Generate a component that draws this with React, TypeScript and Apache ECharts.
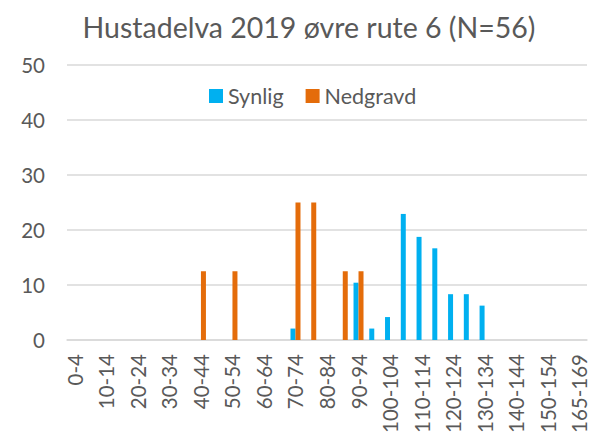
import React, { useEffect, useRef } from "react";
import * as echarts from "echarts";

const categories = [
  "0-4", "5-9", "10-14", "15-19", "20-24", "25-29", "30-34", "35-39",
  "40-44", "45-49", "50-54", "55-59", "60-64", "65-69", "70-74", "75-79",
  "80-84", "85-89", "90-94", "95-99", "100-104", "105-109", "110-114", "115-119",
  "120-124", "125-129", "130-134", "135-139", "140-144", "145-149", "150-154", "155-164",
  "165-169",
];

const synlig = [
  0, 0, 0, 0, 0, 0, 0, 0,
  0, 0, 0, 0, 0, 0, 2.08, 0,
  0, 0, 10.42, 2.08, 4.17, 22.92, 18.75, 16.67,
  8.33, 8.33, 6.25, 0, 0, 0, 0, 0,
  0,
];

const nedgravd = [
  0, 0, 0, 0, 0, 0, 0, 0,
  12.5, 0, 12.5, 0, 0, 0, 25, 25,
  0, 12.5, 12.5, 0, 0, 0, 0, 0,
  0, 0, 0, 0, 0, 0, 0, 0,
  0,
];

const yTicks = { min: 0, max: 50, interval: 10 };

const FONT = "Lato, 'Open Sans', sans-serif";
const TEXT = "#595959";

export default function App() {
  const ref = useRef<HTMLDivElement>(null);
  useEffect(() => {
    if (!ref.current) return;
    const chart = echarts.init(ref.current, undefined, { renderer: "svg" });
    chart.setOption({
      animation: false,
      backgroundColor: "#ffffff",
      title: {
        text: "Hustadelva 2019 øvre rute 6 (N=56)",
        left: 304,
        textAlign: "center",
        top: 7,
        textStyle: { fontFamily: FONT, fontSize: 28.5, fontWeight: "normal", color: TEXT },
      },
      legend: {
        top: 80,
        left: 204,
        itemWidth: 14,
        itemHeight: 14,
        itemGap: 22,
        icon: "rect",
        textStyle: { fontFamily: FONT, fontSize: 21.5, color: TEXT },
        data: ["Synlig", "Nedgravd"],
      },
      grid: { left: 67, right: 9, top: 65, bottom: 101, containLabel: false },
      xAxis: {
        type: "category",
        data: categories,
        axisLine: { lineStyle: { color: "#d9d9d9", width: 1.5 } },
        axisTick: { show: false },
        axisLabel: {
          rotate: 90,
          interval: 1,
          margin: 14,
          fontFamily: FONT,
          fontSize: 20.5,
          color: TEXT,
        },
      },
      yAxis: {
        type: "value",
        min: yTicks.min,
        max: yTicks.max,
        interval: yTicks.interval,
        axisLine: { show: false },
        axisTick: { show: false },
        axisLabel: { margin: 22, fontFamily: FONT, fontSize: 20.5, color: TEXT },
        splitLine: { lineStyle: { color: "#d9d9d9", width: 1.5 } },
      },
      series: [
        {
          name: "Synlig",
          type: "bar",
          data: synlig,
          barWidth: 5,
          barGap: "0%",
          itemStyle: { color: "#00B0F0" },
        },
        {
          name: "Nedgravd",
          type: "bar",
          data: nedgravd,
          barWidth: 5,
          barGap: "0%",
          itemStyle: { color: "#E46C0A" },
        },
      ],
    });
    return () => chart.dispose();
  }, []);
  return <div ref={ref} style={{ width: 596, height: 441, margin: -8 }} />;
}
